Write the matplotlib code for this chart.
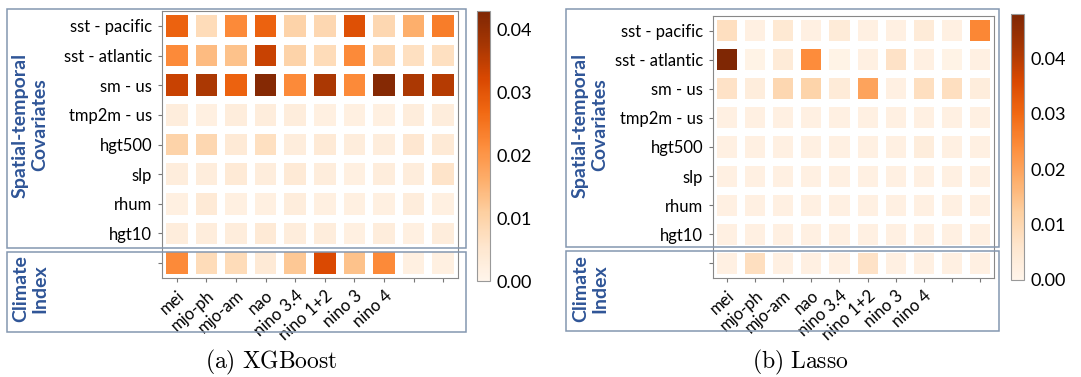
import numpy as np
import matplotlib.pyplot as plt
from matplotlib.patches import Rectangle
from matplotlib.ticker import FormatStrFormatter

plt.rcParams['mathtext.fontset'] = 'cm'

rows = ["sst - pacific", "sst - atlantic", "sm - us", "tmp2m - us",
        "hgt500", "slp", "rhum", "hgt10", ""]
cols = ["mei", "mjo-ph", "mjo-am", "nao", "nino 3.4", "nino 1+2", "nino 3", "nino 4", "", ""]

# XGBoost importances (8 spatial rows + climate index row)
xgb = [
    [0.028, 0.008, 0.022, 0.028, 0.010, 0.009, 0.031, 0.009, 0.016, 0.024],
    [0.022, 0.014, 0.013, 0.034, 0.010, 0.008, 0.022, 0.009, 0.007, 0.007],
    [0.034, 0.037, 0.028, 0.042, 0.022, 0.037, 0.022, 0.042, 0.037, 0.036],
    [0.003, 0.002, 0.003, 0.003, 0.003, 0.002, 0.002, 0.002, 0.003, 0.003],
    [0.010, 0.009, 0.004, 0.007, 0.003, 0.004, 0.003, 0.003, 0.005, 0.004],
    [0.003, 0.003, 0.004, 0.003, 0.004, 0.003, 0.002, 0.003, 0.003, 0.006],
    [0.002, 0.004, 0.002, 0.002, 0.003, 0.002, 0.002, 0.002, 0.003, 0.002],
    [0.003, 0.003, 0.003, 0.004, 0.003, 0.003, 0.002, 0.003, 0.002, 0.003],
    [0.022, 0.008, 0.008, 0.004, 0.012, 0.032, 0.013, 0.022, 0.002, 0.002],
]

# Lasso importances
lasso = [
    [0.008, 0.002, 0.005, 0.002, 0.004, 0.002, 0.002, 0.004, 0.002, 0.025],
    [0.048, 0.001, 0.004, 0.024, 0.001, 0.002, 0.007, 0.002, 0.001, 0.002],
    [0.007, 0.003, 0.010, 0.011, 0.004, 0.020, 0.002, 0.008, 0.008, 0.003],
    [0.002, 0.002, 0.002, 0.002, 0.002, 0.002, 0.002, 0.002, 0.002, 0.002],
    [0.002, 0.002, 0.002, 0.002, 0.002, 0.002, 0.002, 0.003, 0.002, 0.002],
    [0.002, 0.002, 0.002, 0.002, 0.002, 0.002, 0.002, 0.002, 0.002, 0.002],
    [0.002, 0.002, 0.002, 0.002, 0.002, 0.002, 0.002, 0.002, 0.002, 0.002],
    [0.002, 0.002, 0.002, 0.002, 0.002, 0.002, 0.002, 0.002, 0.002, 0.002],
    [0.002, 0.008, 0.002, 0.002, 0.002, 0.007, 0.002, 0.002, 0.002, 0.002],
]

W, H = 1081, 377
fig = plt.figure(figsize=(W / 100, H / 100), dpi=100)


def fr(x0, y0, x1, y1):
    # pixel box -> figure fraction [left, bottom, width, height]
    return [x0 / W, 1 - y1 / H, (x1 - x0) / W, (y1 - y0) / H]


blue = "#2f5597"
box_col = "#8497b0"
font = "Lato"


def panel(data, vmax, hm_px, cb_px, box1_px, box2_px, lab_x, caption, cap_x):
    ax = fig.add_axes(fr(*hm_px))
    mesh = ax.pcolormesh(np.array(data), cmap="Oranges", vmin=0, vmax=vmax,
                         edgecolors="white", linewidth=4.5)
    ax.set_xlim(0, len(cols))
    ax.set_ylim(len(rows), 0)
    ax.set_xticks(np.arange(len(cols)) + 0.5)
    ax.set_xticklabels(cols, rotation=42, ha="right", rotation_mode="anchor",
                       fontsize=12, family=font)
    ax.set_yticks(np.arange(len(rows)) + 0.5)
    ax.set_yticklabels(rows, fontsize=12, family=font)
    ax.tick_params(length=3, color="#777777", pad=4)
    for s in ax.spines.values():
        s.set_color("#888888")
        s.set_linewidth(0.8)

    cax = fig.add_axes(fr(*cb_px))
    cb = fig.colorbar(mesh, cax=cax)
    cb.outline.set_edgecolor("#999999")
    cb.set_ticks([0, 0.01, 0.02, 0.03, 0.04])
    cb.ax.yaxis.set_major_formatter(FormatStrFormatter("%.2f"))
    cb.ax.tick_params(labelsize=13, length=0, pad=5)
    for t in cb.ax.get_yticklabels():
        t.set_family(font)

    for b in (box1_px, box2_px):
        fig.patches.append(Rectangle(fr(*b)[:2], fr(*b)[2], fr(*b)[3],
                                     transform=fig.transFigure, fill=False,
                                     edgecolor=box_col, linewidth=1.1))

    fig.text(lab_x / W, 1 - 125 / H, "Spatial-temporal\nCovariates", rotation=90,
             ha="center", va="center", color=blue, fontsize=14,
             fontweight="bold", family=font, linespacing=1.15)
    fig.text(lab_x / W, 1 - 289 / H, "Climate\nIndex", rotation=90,
             ha="center", va="center", color=blue, fontsize=14,
             fontweight="bold", family=font, linespacing=1.15)
    fig.text(cap_x / W, 1 - 362 / H, caption, ha="center", va="center", fontsize=17)


panel(xgb, 0.043, (162, 11, 458, 278), (477, 11, 490, 281),
      (7, 9, 466, 248), (7, 252, 466, 332), 30,
      r"$\mathrm{(a)\ XGBoost}$", 271)
panel(lasso, 0.048, (713, 16, 994, 278), (1011, 14, 1024, 280),
      (566, 9, 999, 247), (566, 251, 999, 331), 590,
      r"$\mathrm{(b)\ Lasso}$", 800)

fig.savefig("out.png", dpi=100)
